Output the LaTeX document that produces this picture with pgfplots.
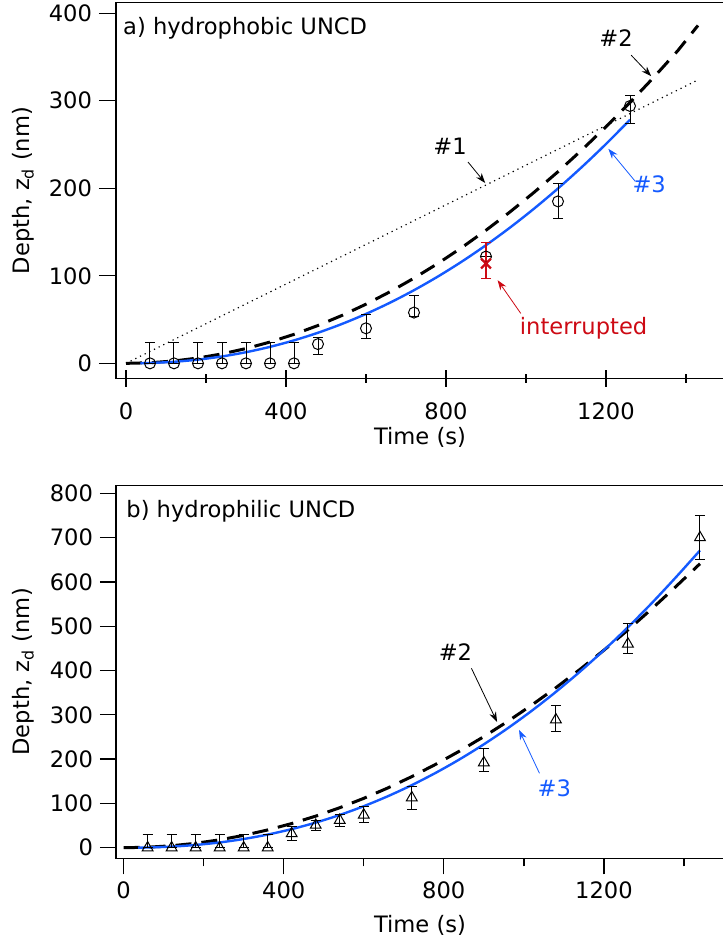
\documentclass[border=0pt]{standalone}
\usepackage{pgfplots}
\pgfplotsset{compat=1.18}
\usepackage{fontspec}
\setmainfont{DejaVu Sans}
\usetikzlibrary{arrows.meta}
\definecolor{fitblue}{RGB}{20,90,255}
\definecolor{intred}{RGB}{205,10,20}

\tikzset{
  annot/.style={font=\fontsize{11.3}{13}\selectfont},
  arr/.style={-{Stealth[length=5pt,width=3.5pt]}, line width=0.4pt},
}
\pgfplotsset{
  panel/.style={
    width=304pt, scale only axis,
    /pgf/number format/assume math mode=true,
    /pgf/number format/1000 sep={},
    font=\fontsize{11.3}{13}\selectfont,
    axis line style={line width=0.65pt},
    every tick/.style={black, line width=0.65pt},
    tick align=outside,
    major tick length=8.5pt, minor tick length=4.5pt,
    xtick pos=bottom, ytick pos=left,
    xtick={0,400,800,1200}, minor xtick={200,600,1000,1400},
    xlabel={Time (s)},
    ylabel={Depth, z\textsubscript{d} (nm)},
    every axis y label/.style={at={(axis description cs:-0.153,0.5)}, anchor=center, rotate=90},
    clip=true,
  },
  databar/.style={
    error bars/.cd, y dir=both, y explicit,
    error bar style={line width=0.5pt, solid},
    error mark options={rotate=90, mark size=2.5pt, line width=0.5pt, solid},
  },
}

\begin{document}
\begin{tikzpicture}
\useasboundingbox (0,0) rectangle (361.5pt,-471.5pt);
% ---------------- panel a ----------------
\begin{axis}[panel, at={(58pt,-189.15pt)}, anchor=south west, height=187.8pt,
  xmin=-25, xmax=1495, ymin=-17.1, ymax=412,
  ytick={0,100,200,300,400},
  major x tick style={yshift=4.25pt},
  minor x tick style={yshift=2.25pt},
  every axis x label/.style={at={(axis description cs:0.5,0)}, anchor=center, yshift=-29.7pt}]
% #1 dotted linear
\addplot[black, dotted, line width=0.6pt] coordinates {(0,0) (1431,324)};
% #2 dashed
\addplot[black, line width=1.5pt, dash pattern=on 8pt off 5pt] coordinates {
(0,0) (60,0.68) (120,2.70) (180,6.08) (240,10.81) (300,16.89) (360,24.33)
(420,33.11) (480,43.25) (540,54.73) (600,67.57) (660,81.76) (720,97.30)
(780,114.20) (840,132.44) (900,152.04) (960,172.98) (1020,195.28)
(1080,218.93) (1140,243.93) (1200,270.29) (1260,297.99) (1320,327.05)
(1380,357.46) (1430,386.00)};
% #3 blue
\addplot[fitblue, line width=1.2pt, smooth] coordinates {
(36,0.13) (60,0.40) (120,1.77) (180,4.24) (240,7.87) (300,12.72) (360,18.83)
(420,26.23) (480,34.95) (540,45.02) (600,56.46) (660,69.29) (720,83.56)
(780,99.25) (840,116.39) (900,135.00) (960,155.09) (1020,176.68)
(1080,199.79) (1140,224.42) (1200,250.58) (1260,278.30)};
% data circles
\addplot[black, only marks, mark=o, mark size=2.75pt, mark options={line width=0.5pt}, databar] coordinates {
(60,0) += (0,24) -= (0,0)
(120,0) += (0,24) -= (0,0)
(180,0) += (0,24) -= (0,0)
(240,0) += (0,24) -= (0,0)
(300,0) += (0,24) -= (0,0)
(360,0) += (0,24) -= (0,0)
(420,0) += (0,24) -= (0,0)
(480,22) += (0,8) -= (0,12)
(600,40) += (0,16) -= (0,12)
(720,58) += (0,20) -= (0,4)
(900,122) += (0,0) -= (0,0)
(1080,185) += (0,20) -= (0,20)
(1260,294) += (0,12) -= (0,20)
};
% interrupted point
\addplot[intred, only marks, mark=x, mark size=3.5pt, mark options={line width=1.1pt},
  error bars/.cd, y dir=both, y explicit,
  error bar style={line width=0.6pt, intred},
  error mark options={rotate=90, mark size=2.5pt, line width=0.6pt, intred}] coordinates {
(900,114) += (0,24) -= (0,17)
};
\node[annot, anchor=base west, inner sep=0pt] at (axis cs:-8,376) {a) hydrophobic UNCD};
\node[annot] at (axis cs:1225,371) {\#2};
\draw[arr] (axis cs:1263,352) -- (axis cs:1313,328);
\node[annot] at (axis cs:810,248) {\#1};
\draw[arr] (axis cs:855,230) -- (axis cs:898,206);
\node[annot, text=fitblue] at (axis cs:1308,204) {\#3};
\draw[arr, fitblue] (axis cs:1273,208) -- (axis cs:1206,245);
\node[annot, text=intred] at (axis cs:1144,40) {interrupted};
\draw[arr, intred] (axis cs:987,57) -- (axis cs:929,95);
\end{axis}

% ---------------- panel b ----------------
\begin{axis}[panel, at={(58pt,-429.15pt)}, anchor=south west, height=186.5pt,
  xmin=-19, xmax=1500, ymin=-23.9, ymax=818,
  ytick={0,100,200,300,400,500,600,700,800},
  major tick length=8pt, minor tick length=4pt,
  every axis x label/.style={at={(axis description cs:0.5,0)}, anchor=center, yshift=-33.3pt}]
% #2 dashed
\addplot[black, line width=1.5pt, dash pattern=on 8pt off 5pt] coordinates {
(0,0) (60,1.11) (120,4.46) (180,10.03) (240,17.83) (300,27.86) (360,40.12)
(420,54.61) (480,71.33) (540,90.28) (600,111.46) (660,134.86) (720,160.50)
(780,188.36) (840,218.45) (900,250.78) (960,285.33) (1020,322.11)
(1080,361.12) (1140,402.36) (1200,445.82) (1260,491.52) (1320,539.45)
(1380,589.60) (1440,641.00)};
% #3 blue
\addplot[fitblue, line width=1.2pt, smooth] coordinates {
(36,0.17) (60,0.53) (120,2.51) (180,6.24) (240,11.92) (300,19.70) (360,29.70)
(420,42.02) (480,56.74) (540,73.94) (600,93.71) (660,116.16) (720,141.27)
(780,169.15) (840,199.81) (900,233.40) (960,269.88) (1020,309.32)
(1080,351.78) (1140,397.29) (1200,445.89) (1260,497.61) (1320,552.52)
(1380,610.63) (1440,671.00)};
% data triangles
\addplot[black, only marks, mark=triangle, mark size=3.1pt, mark options={line width=0.5pt}, databar] coordinates {
(60,0) += (0,29) -= (0,0)
(120,0) += (0,29) -= (0,0)
(180,0) += (0,29) -= (0,0)
(240,0) += (0,29) -= (0,0)
(300,0) += (0,29) -= (0,0)
(360,0) += (0,29) -= (0,0)
(420,32) += (0,17) -= (0,16)
(480,51) += (0,11) -= (0,13)
(540,62) += (0,12) -= (0,13)
(600,74) += (0,18) -= (0,17)
(720,113) += (0,25) -= (0,27)
(900,192) += (0,32) -= (0,20)
(1080,289) += (0,33) -= (0,26)
(1260,460) += (0,47) -= (0,21)
(1440,700) += (0,49) -= (0,50)
};
\node[annot, anchor=base west, inner sep=0pt] at (axis cs:6,745) {b) hydrophilic UNCD};
\node[annot] at (axis cs:829,442) {\#2};
\draw[arr] (axis cs:869,405) -- (axis cs:933,284);
\node[annot, text=fitblue] at (axis cs:1076,134) {\#3};
\draw[arr, fitblue] (axis cs:1039,168) -- (axis cs:988,266);
\end{axis}
\end{tikzpicture}
\end{document}
